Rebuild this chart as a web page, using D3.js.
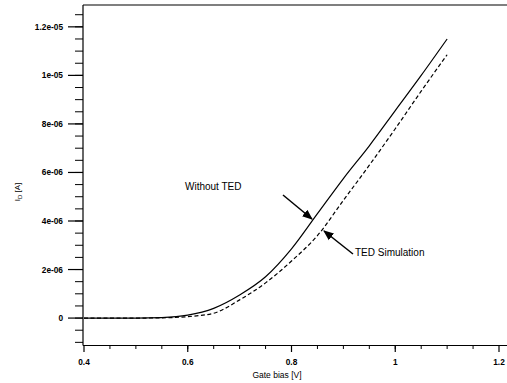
<!DOCTYPE html>
<html>
<head>
<meta charset="utf-8">
<script src="https://cdn.jsdelivr.net/npm/d3@7"></script>
<style>
  body { margin: 0; background: #fff; }
  svg text { font-family: "Liberation Sans", Arial, sans-serif; fill: #000; }
</style>
</head>
<body>
<div id="chart"></div>
<script>
// gate bias [V]
var gateBias = [0.4, 0.45, 0.5, 0.55, 0.6, 0.65, 0.7, 0.75, 0.8, 0.85, 0.9, 0.95, 1.0, 1.05, 1.1];
// drain current [A]
var withoutTed = [0, 0, 0, 0.02e-6, 0.12e-6, 0.4e-6, 0.95e-6, 1.7e-6, 2.85e-6, 4.3e-6, 5.75e-6, 7.1e-6, 8.55e-6, 10.0e-6, 11.5e-6];
var tedSim = [0, 0, 0, 0.01e-6, 0.06e-6, 0.2e-6, 0.75e-6, 1.45e-6, 2.35e-6, 3.4e-6, 4.85e-6, 6.3e-6, 7.8e-6, 9.35e-6, 10.85e-6];

var xTicks = [0.4, 0.6, 0.8, 1.0, 1.2];
var xTickLabels = ["0.4", "0.6", "0.8", "1", "1.2"];
var yTicks = [0, 2e-6, 4e-6, 6e-6, 8e-6, 1e-5, 1.2e-5];
var yTickLabels = ["0", "2e-06", "4e-06", "6e-06", "8e-06", "1e-05", "1.2e-05"];

var W = 507, H = 383;
var svg = d3.select("#chart").append("svg")
    .attr("width", W)
    .attr("height", H);

var x = d3.scaleLinear().domain([0.4, 1.2]).range([84, 499]);
var y = d3.scaleLinear().domain([-1.13e-6, 1.29e-5]).range([345.5, 5]);

// frame: left axis, bottom axis and the top line
svg.append("line").attr("x1", 83).attr("x2", 83).attr("y1", 5).attr("y2", 345.5)
    .style("stroke", "#000").style("stroke-width", 1.2);
svg.append("line").attr("x1", 83).attr("x2", 507).attr("y1", 345.5).attr("y2", 345.5)
    .style("stroke", "#000").style("stroke-width", 1.2);
svg.append("line").attr("x1", 83).attr("x2", 507).attr("y1", 5).attr("y2", 5)
    .style("stroke", "#000").style("stroke-width", 1.2);

// y ticks (minor every 0.5e-6)
var yMinor = d3.range(-1e-6, 1.26e-5, 0.5e-6);
svg.selectAll(".ymin").data(yMinor).enter().append("line")
    .attr("x1", 75).attr("x2", 83)
    .attr("y1", d => y(d)).attr("y2", d => y(d))
    .style("stroke", "#000").style("stroke-width", 1);
svg.selectAll(".ymaj").data(yTicks).enter().append("line")
    .attr("x1", 68).attr("x2", 83)
    .attr("y1", d => y(d)).attr("y2", d => y(d))
    .style("stroke", "#000").style("stroke-width", 1.2);
svg.selectAll(".ylab").data(yTicks).enter().append("text")
    .attr("x", 63)
    .attr("y", d => y(d) + 3)
    .attr("text-anchor", "end")
    .style("font-size", "8.3px").style("font-weight", "bold")
    .text((d, i) => yTickLabels[i]);

// x ticks (minor every 0.05)
var xMinor = d3.range(0.45, 1.2, 0.05);
svg.selectAll(".xmin").data(xMinor).enter().append("line")
    .attr("x1", d => x(d)).attr("x2", d => x(d))
    .attr("y1", 345.5).attr("y2", 349)
    .style("stroke", "#000").style("stroke-width", 1);
svg.selectAll(".xmaj").data(xTicks).enter().append("line")
    .attr("x1", d => x(d)).attr("x2", d => x(d))
    .attr("y1", 345.5).attr("y2", 352)
    .style("stroke", "#000").style("stroke-width", 1.2);
svg.selectAll(".xlab").data(xTicks).enter().append("text")
    .attr("x", d => x(d))
    .attr("y", 365)
    .attr("text-anchor", "middle")
    .style("font-size", "8.3px").style("font-weight", "bold")
    .text((d, i) => xTickLabels[i]);

// axis titles
svg.append("text")
    .attr("x", 277).attr("y", 378)
    .attr("text-anchor", "middle")
    .style("font-size", "8.5px")
    .text("Gate bias [V]");

var yTitle = svg.append("text")
    .attr("transform", "translate(20,192) rotate(-90)")
    .attr("text-anchor", "middle")
    .style("font-size", "8px");
yTitle.append("tspan").text("I");
yTitle.append("tspan").attr("dy", 2).style("font-size", "6px").text("D");
yTitle.append("tspan").attr("dy", -2).text(" [A]");

// curves
var line = d3.line().curve(d3.curveMonotoneX).x(d => x(d[0])).y(d => y(d[1]));
svg.append("path")
    .datum(gateBias.map((g, i) => [g, withoutTed[i]]))
    .attr("d", line)
    .style("fill", "none").style("stroke", "#000").style("stroke-width", 1.2);
svg.append("path")
    .datum(gateBias.map((g, i) => [g, tedSim[i]]))
    .attr("d", line)
    .style("fill", "none").style("stroke", "#000").style("stroke-width", 1.2)
    .style("stroke-dasharray", "4,2.5");

// annotations with arrows
svg.append("defs").append("marker")
    .attr("id", "arrow")
    .attr("viewBox", "0 0 10 10")
    .attr("refX", 9).attr("refY", 5)
    .attr("markerWidth", 7).attr("markerHeight", 7)
    .attr("orient", "auto")
    .append("path").attr("d", "M0,1 L10,5 L0,9 Z").style("fill", "#000");

svg.append("text")
    .attr("x", 185).attr("y", 190)
    .style("font-size", "10px")
    .text("Without TED");
svg.append("line")
    .attr("x1", 283).attr("y1", 195).attr("x2", 312).attr("y2", 219)
    .attr("marker-end", "url(#arrow)")
    .style("stroke", "#000").style("stroke-width", 1.5);

svg.append("text")
    .attr("x", 355).attr("y", 256)
    .style("font-size", "10px")
    .text("TED Simulation");
svg.append("line")
    .attr("x1", 353).attr("y1", 254).attr("x2", 324).attr("y2", 231)
    .attr("marker-end", "url(#arrow)")
    .style("stroke", "#000").style("stroke-width", 1.5);
</script>
</body>
</html>
